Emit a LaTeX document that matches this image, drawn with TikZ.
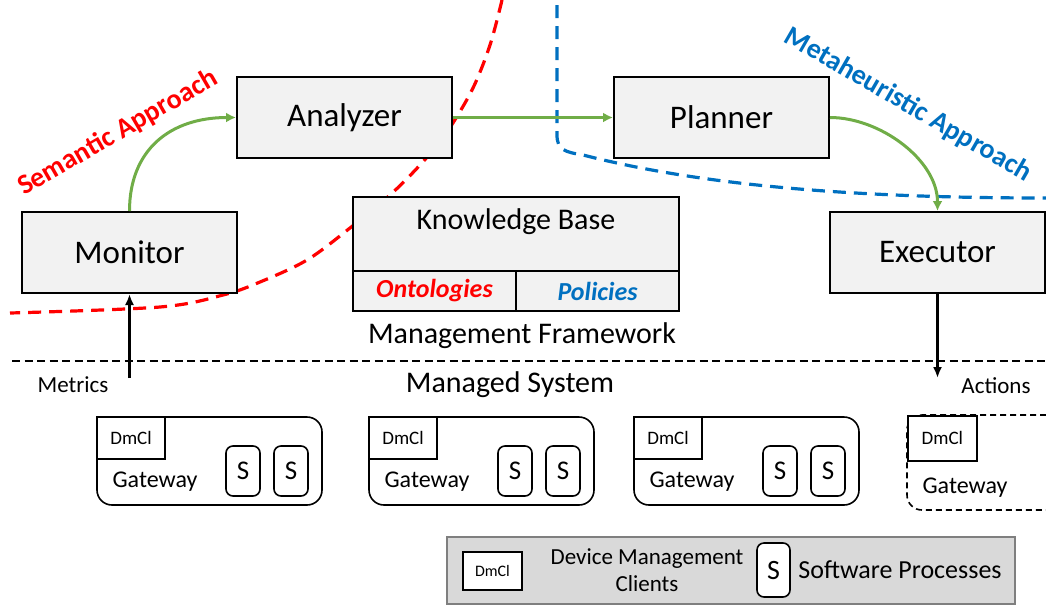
\documentclass[tikz,border=0pt]{standalone}
\usepackage{fontspec}
\setmainfont{Carlito}
\usetikzlibrary{arrows.meta}
\definecolor{boxgray}{HTML}{F2F2F2}
\definecolor{leggray}{HTML}{D9D9D9}
\definecolor{legborder}{HTML}{7F7F7F}
\definecolor{arrgreen}{HTML}{70AD47}
\definecolor{semred}{HTML}{FF0000}
\definecolor{metablue}{HTML}{0070C0}
\tikzset{
  mainbox/.style={draw, fill=boxgray, line width=2pt, minimum width=215pt, minimum height=81pt, inner sep=0pt, font=\fontsize{33pt}{39pt}\selectfont},
  kbbox/.style={draw, fill=boxgray, line width=2pt, minimum width=326pt, minimum height=114pt, inner sep=0pt},
  subbox/.style={draw, fill=boxgray, line width=2pt, minimum width=163pt, minimum height=40pt, inner sep=0pt, font=\fontsize{26pt}{30pt}\selectfont\bfseries\itshape},
  bigtext/.style={inner sep=0pt, font=\fontsize{30pt}{35pt}\selectfont},
  smalltext/.style={inner sep=0pt, font=\fontsize{23pt}{27pt}\selectfont},
  gw/.style={draw, rounded corners=15pt, line width=1.6pt, minimum width=225pt, minimum height=88pt, inner sep=0pt},
  dmcl/.style={draw, fill=white, line width=1.6pt, minimum width=68pt, minimum height=42pt, inner sep=0pt, font=\fontsize{19pt}{23pt}\selectfont},
  sbox/.style={draw, fill=white, rounded corners=7pt, line width=1.6pt, minimum width=34pt, minimum height=50pt, inner sep=0pt, font=\fontsize{27pt}{31pt}\selectfont},
  greenarrow/.style={draw=arrgreen, line width=3pt, -{Latex[length=10pt,width=10pt]}},
  blackarrow/.style={draw=black, line width=2.6pt, -{Latex[length=11pt,width=9pt]}},
  sepline/.style={draw=black, line width=2pt, dash pattern=on 8pt off 4.5pt},
  reddash/.style={draw=semred, line width=3.2pt, dash pattern=on 13pt off 8pt},
  bluedash/.style={draw=metablue, line width=3.2pt, dash pattern=on 13pt off 8pt},
  approach/.style={inner sep=0pt, font=\fontsize{28pt}{33pt}\selectfont\bfseries}
}
\begin{document}
\begin{tikzpicture}[x=1pt,y=-1pt]
\useasboundingbox (0,0) rectangle (1046,606);
% approach boundaries
\draw[reddash] plot[smooth, tension=0.55] coordinates {(502,0) (490,45) (472,90) (445,135) (420,165) (390,195) (350,228) (307,260) (260,282) (223,295) (160,307) (10,313)};
\coordinate (b0) at (557,5);
\coordinate (b1) at (557,135);
\coordinate (b2) at (583,155);
\coordinate (b3) at (1046,198);
\draw[bluedash] (b0) -- (b1) .. controls (557,150) and (565,152) .. (b2) .. controls (700,185) and (850,198) .. (b3);
\node[approach, text=semred, rotate=30] (sem) at (118,133) {Semantic Approach};
\node[approach, text=metablue, rotate=-30] (meta) at (908,105) {Metaheuristic Approach};
% main boxes
\node[mainbox] (analyzer) at (344.5,117.5) {Analyzer};
\node[mainbox] (planner) at (721.5,117.5) {Planner};
\node[mainbox] (monitor) at (129.5,252.5) {Monitor};
\node[mainbox] (executor) at (937.5,252.5) {Executor};
% knowledge base
\node[kbbox] (kb) at (516,254) {};
\node[bigtext] (kbtext) at (516,222) {Knowledge Base};
\node[subbox, text=semred] (onto) at (434.5,291) {Ontologies};
\node[subbox, text=metablue] (pol) at (597.5,291) {Policies};
% green arrows
\draw[greenarrow] (monitor.north) .. controls (129.5,150) and (170,117.5) .. (analyzer.west);
\draw[greenarrow] (analyzer.east) -- (planner.west);
\draw[greenarrow] (planner.east) .. controls (880,117.5) and (937.5,160) .. (executor.north);
% framework / system
\node[bigtext] (mf) at (522,336) {Management Framework};
\coordinate (sepL) at (12,361);
\coordinate (sepR) at (1046,361);
\draw[sepline] (sepL) -- (sepR);
\node[bigtext] (ms) at (510,385) {Managed System};
\node[smalltext] (metrics) at (73,385) {Metrics};
\node[smalltext] (actions) at (996,386) {Actions};
\coordinate (mstart) at (129.5,378);
\draw[blackarrow] (mstart) -- (monitor.south);
\coordinate (aend) at (937.5,378);
\draw[blackarrow] (executor.south) -- (aend);
% gateways
\node[gw] (gw1) at (209.5,461) {};
\node[dmcl, anchor=north west] (d1) at (gw1.north west) {DmCl};
\node[smalltext, font=\fontsize{24pt}{28pt}\selectfont] (g1) at (155,482) {Gateway};
\node[sbox] (s11) at (243,471) {S};
\node[sbox] (s12) at (291,471) {S};
\node[gw] (gw2) at (481.5,461) {};
\node[dmcl, anchor=north west] (d2) at (gw2.north west) {DmCl};
\node[smalltext, font=\fontsize{24pt}{28pt}\selectfont] (g2) at (427,482) {Gateway};
\node[sbox] (s21) at (515,471) {S};
\node[sbox] (s22) at (563,471) {S};
\node[gw] (gw3) at (746.5,461) {};
\node[dmcl, anchor=north west] (d3) at (gw3.north west) {DmCl};
\node[smalltext, font=\fontsize{24pt}{28pt}\selectfont] (g3) at (692,482) {Gateway};
\node[sbox] (s31) at (780,471) {S};
\node[sbox] (s32) at (828,471) {S};
% partial gateway
\coordinate (q0) at (1046,415);
\coordinate (q1) at (907,415);
\coordinate (q2) at (907,510);
\coordinate (q3) at (1046,510);
\draw[line width=1.6pt, dash pattern=on 6pt off 4pt, rounded corners=15pt] (q0) -- (q1) -- (q2) -- (q3);
\node[dmcl, anchor=north west, minimum width=69pt, minimum height=45pt] (d4) at (q1) {DmCl};
\node[smalltext, font=\fontsize{24pt}{28pt}\selectfont] (g4) at (965,488) {Gateway};
% legend
\node[draw=legborder, fill=leggray, line width=2pt, minimum width=568pt, minimum height=67pt, inner sep=0pt] (leg) at (731,570.5) {};
\node[dmcl, minimum width=59pt, minimum height=38pt, font=\fontsize{16pt}{19pt}\selectfont] (ld) at (492.5,571) {DmCl};
\node[smalltext, align=center, font=\fontsize{23pt}{27pt}\selectfont] (ldt) at (647,570.5) {Device Management\\Clients};
\node[sbox, minimum width=33pt, minimum height=54pt, font=\fontsize{28pt}{32pt}\selectfont] (ls) at (773.5,570) {S};
\node[smalltext, font=\fontsize{26pt}{31pt}\selectfont] (lst) at (900,570) {Software Processes};
\end{tikzpicture}
\end{document}
